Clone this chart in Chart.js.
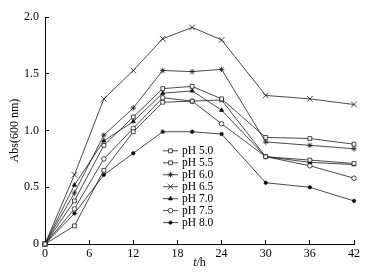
<!DOCTYPE html>
<html>
<head>
<meta charset="utf-8">
<script src="https://cdn.jsdelivr.net/npm/chart.js@4.4.1/dist/chart.umd.min.js"></script>
<style>
  html, body { margin: 0; padding: 0; background: #fff; }
  #wrap { width: 376px; height: 280px; }
</style>
</head>
<body>
<div id="wrap"><canvas id="c" width="376" height="280"></canvas></div>
<script>
// time points (h)
const times = [0, 4, 8, 12, 16, 20, 24, 30, 36, 42];

// Abs(600 nm) per pH
const ph50 = [0, 0.38, 0.87, 1.12, 1.37, 1.39, 1.28, 0.94, 0.93, 0.88];
const ph55 = [0, 0.16, 0.65, 0.99, 1.25, 1.26, 1.27, 0.77, 0.74, 0.71];
const ph60 = [0, 0.45, 0.96, 1.20, 1.53, 1.52, 1.54, 0.90, 0.87, 0.84];
const ph65 = [0, 0.61, 1.28, 1.53, 1.81, 1.91, 1.80, 1.31, 1.28, 1.23];
const ph70 = [0, 0.52, 0.91, 1.08, 1.33, 1.35, 1.18, 0.77, 0.72, 0.70];
const ph75 = [0, 0.31, 0.75, 1.02, 1.29, 1.26, 1.06, 0.77, 0.69, 0.58];
const ph80 = [0, 0.27, 0.61, 0.80, 0.99, 0.99, 0.97, 0.54, 0.50, 0.38];

const seriesLabels = ["pH 5.0", "pH 5.5", "pH 6.0", "pH 6.5", "pH 7.0", "pH 7.5", "pH 8.0"];
const seriesValues = [ph50, ph55, ph60, ph65, ph70, ph75, ph80];

const xTicks = [0, 6, 12, 18, 24, 30, 36, 42];
const yTicks = [0, 0.5, 1.0, 1.5, 2.0];

const FONT = "'Liberation Serif', 'Times New Roman', serif";

// marker look per series
const markers = [
  { style: "rect", r: 2.7, fill: "#fff" },
  { style: "rect", r: 2.7, fill: "#fff" },
  { style: "star", r: 2.8, fill: "#000" },
  { style: "crossRot", r: 4, fill: "#000" },
  { style: "triangle", r: 2.4, fill: "#000" },
  { style: "circle", r: 2.3, fill: "#fff" },
  { style: "circle", r: 1.7, fill: "#000" },
];

const datasets = seriesValues.map((vals, i) => ({
  label: seriesLabels[i],
  data: vals.map((v, j) => ({ x: times[j], y: v })),
  borderColor: "#1a1a1a",
  borderWidth: 0.8,
  pointStyle: markers[i].style,
  pointRadius: markers[i].r,
  pointBackgroundColor: markers[i].fill,
  pointBorderColor: "#1a1a1a",
  pointBorderWidth: 0.8,
  tension: 0,
  clip: false,
}));

// legend inside plot + x title with italic t
const extras = {
  id: "extras",
  afterDraw(chart) {
    const ctx = chart.ctx;
    ctx.save();
    ctx.fillStyle = "#000";
    ctx.strokeStyle = "#1a1a1a";
    ctx.font = "11.5px " + FONT;
    ctx.textBaseline = "middle";
    chart.data.datasets.forEach((ds, i) => {
      const y = 150.8 + i * 11.97;
      ctx.beginPath();
      ctx.lineWidth = 0.8;
      ctx.moveTo(163, y);
      ctx.lineTo(178, y);
      ctx.stroke();
      ctx.fillStyle = ds.pointBackgroundColor;
      Chart.helpers.drawPoint(ctx, {
        pointStyle: ds.pointStyle,
        radius: ds.pointRadius,
        rotation: 0,
        borderWidth: 0.8,
      }, 170.5, y);
      ctx.fillStyle = "#000";
      ctx.textAlign = "left";
      ctx.fillText(ds.label, 182, y + 0.5);
    });

    // x title "t/h"
    const xs = chart.scales.x;
    const cx = (xs.left + xs.right) / 2;
    const ty = 262.5;
    ctx.font = "italic 12px " + FONT;
    const wT = ctx.measureText("t").width;
    ctx.font = "12px " + FONT;
    const wH = ctx.measureText("/h").width;
    const x0 = cx - (wT + wH) / 2;
    ctx.textAlign = "left";
    ctx.font = "italic 12px " + FONT;
    ctx.fillText("t", x0, ty);
    ctx.font = "12px " + FONT;
    ctx.fillText("/h", x0 + wT, ty);
    ctx.restore();
  },
};

new Chart(document.getElementById("c").getContext("2d"), {
  type: "line",
  data: { datasets: datasets },
  plugins: [extras],
  options: {
    responsive: false,
    animation: false,
    layout: { padding: { left: 0, right: 22, top: 10, bottom: 0 } },
    plugins: {
      legend: { display: false },
      tooltip: { enabled: false },
    },
    scales: {
      x: {
        type: "linear",
        min: 0,
        max: 42,
        afterFit: (scale) => { scale.height = 36; },
        afterBuildTicks: (scale) => { scale.ticks = xTicks.map((v) => ({ value: v })); },
        ticks: {
          color: "#000",
          font: { family: FONT, size: 12 },
          padding: 7,
          maxRotation: 0,
        },
        grid: {
          drawOnChartArea: false,
          drawTicks: true,
          tickLength: -4,
          color: "#000",
          lineWidth: 1,
        },
        border: { display: true, color: "#000", width: 1 },
      },
      y: {
        type: "linear",
        min: 0,
        max: 2,
        afterFit: (scale) => { scale.width = 45; },
        afterBuildTicks: (scale) => { scale.ticks = yTicks.map((v) => ({ value: v })); },
        ticks: {
          color: "#000",
          font: { family: FONT, size: 12 },
          padding: 10,
          callback: (v) => (v === 0 ? "0" : Number(v).toFixed(1)),
        },
        title: {
          display: true,
          text: "Abs(600 nm)",
          color: "#000",
          font: { family: FONT, size: 12 },
          padding: { top: 8, bottom: 0 },
        },
        grid: {
          drawOnChartArea: false,
          drawTicks: true,
          tickLength: -4,
          color: "#000",
          lineWidth: 1,
        },
        border: { display: true, color: "#000", width: 1 },
      },
    },
  },
});
</script>
</body>
</html>
